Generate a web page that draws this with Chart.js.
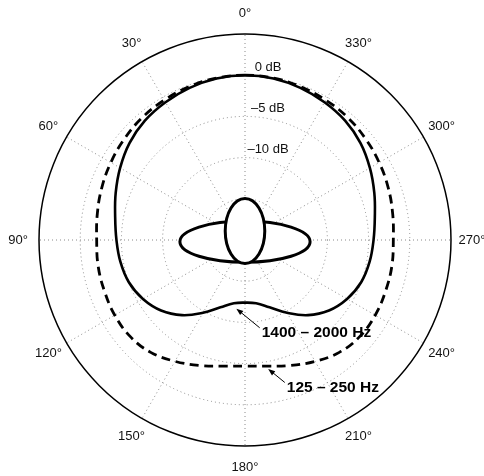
<!DOCTYPE html>
<html>
<head>
<meta charset="utf-8">
<script src="https://cdn.jsdelivr.net/npm/chart.js@4"></script>
<style>
  html, body { margin: 0; padding: 0; background: #fff; }
  #wrap { width: 484px; height: 476px; }
</style>
</head>
<body>
<div id="wrap"><canvas id="polar" width="484" height="476"></canvas></div>
<script>
// angles in degrees, counted counter-clockwise from the front (top)
const angles = [0, 10, 20, 30, 40, 50, 60, 70, 80, 90, 100, 110, 120, 130, 140, 150, 160, 170,
  180, 190, 200, 210, 220, 230, 240, 250, 260, 270, 280, 290, 300, 310, 320, 330, 340, 350];

// relative level in dB
const highBand = [0, -0.1, -0.35, -0.7, -1.1, -1.7, -2.5, -3.3, -4.0, -4.4, -4.65, -5.0, -5.7, -6.7, -8.1, -9.8, -11.3, -12.2,
  -12.4, -12.2, -11.3, -9.8, -8.1, -6.7, -5.7, -5.0, -4.65, -4.4, -4.0, -3.3, -2.5, -1.7, -1.1, -0.7, -0.35, -0.1];
const lowBand = [0, -0.05, -0.2, -0.4, -0.6, -0.9, -1.2, -1.5, -1.8, -2.0, -1.9, -1.85, -1.75, -1.8, -2.2, -3.0, -3.8, -4.45,
  -4.7, -4.45, -3.8, -3.0, -2.2, -1.8, -1.75, -1.85, -1.9, -2.0, -1.8, -1.5, -1.2, -0.9, -0.6, -0.4, -0.2, -0.05];

const seriesNames = ["1400 – 2000 Hz", "125 – 250 Hz"];
const angleTicks = [0, 30, 60, 90, 120, 150, 180, 210, 240, 270, 300, 330];
const dbTicks = [0, -5, -10];
const dbTickLabels = ["0 dB", "–5 dB", "–10 dB"];

// where the two arrows point (angle, dB)
const callouts = [
  { text: seriesNames[0], tip: [172.8, -11.6], tail: [189.5, -9.2] },
  { text: seriesNames[1], tip: [190.2, -4.1], tail: [195.6, -2.05] },
];

// radar goes clockwise, the plot counts counter-clockwise
const order = angles.map((a, i) => (angles.length - i) % angles.length);
const chartLabels = order.map((k) => angles[k]);
const pick = (arr) => order.map((k) => arr[k]);

const FONT = "'Liberation Sans', Arial, Helvetica, sans-serif";
const GRID = "#8a8a8a";

function toPixel(scale, deg, db) {
  const r = scale.getDistanceFromCenterForValue(db);
  const a = (deg * Math.PI) / 180;
  return { x: scale.xCenter - r * Math.sin(a), y: scale.yCenter - r * Math.cos(a) };
}

const overlay = {
  id: "overlay",
  afterDatasetsDraw(chart) {
    const ctx = chart.ctx;
    const scale = chart.scales.r;
    const unit = scale.drawingArea / 25;
    const cx = scale.xCenter;
    const cy = scale.yCenter;

    // listener seen from above: shoulders and head
    ctx.save();
    ctx.lineWidth = 3;
    ctx.strokeStyle = "#000";
    ctx.fillStyle = "#fff";
    ctx.beginPath();
    ctx.ellipse(cx, cy + 0.2 * unit, 7.9 * unit, 2.5 * unit, 0, 0, Math.PI * 2);
    ctx.fill();
    ctx.stroke();
    ctx.beginPath();
    ctx.ellipse(cx, cy - 1.1 * unit, 2.4 * unit, 3.95 * unit, 0, 0, Math.PI * 2);
    ctx.fill();
    ctx.stroke();
    ctx.restore();

    // angle labels
    ctx.save();
    ctx.fillStyle = "#111";
    ctx.font = "13px " + FONT;
    ctx.textAlign = "center";
    ctx.textBaseline = "middle";
    const rl = scale.drawingArea + 21;
    angleTicks.forEach((deg) => {
      const a = (deg * Math.PI) / 180;
      ctx.fillText(deg + "°", cx - rl * Math.sin(a), cy - rl * Math.cos(a));
    });

    // level labels
    dbTicks.forEach((db, i) => {
      const r = scale.getDistanceFromCenterForValue(db);
      ctx.fillText(dbTickLabels[i], cx + 23, cy - r - 8);
    });
    ctx.restore();

    // callouts
    ctx.save();
    ctx.strokeStyle = "#000";
    ctx.fillStyle = "#000";
    ctx.lineWidth = 1;
    ctx.font = "bold 15.5px " + FONT;
    ctx.textAlign = "left";
    ctx.textBaseline = "middle";
    callouts.forEach((c) => {
      const tip = toPixel(scale, c.tip[0], c.tip[1]);
      const tail = toPixel(scale, c.tail[0], c.tail[1]);
      const ang = Math.atan2(tip.y - tail.y, tip.x - tail.x);
      ctx.beginPath();
      ctx.moveTo(tail.x, tail.y);
      ctx.lineTo(tip.x - 5 * Math.cos(ang), tip.y - 5 * Math.sin(ang));
      ctx.stroke();
      ctx.beginPath();
      ctx.moveTo(tip.x, tip.y);
      ctx.lineTo(tip.x - 7 * Math.cos(ang) + 2.6 * Math.sin(ang), tip.y - 7 * Math.sin(ang) - 2.6 * Math.cos(ang));
      ctx.lineTo(tip.x - 7 * Math.cos(ang) - 2.6 * Math.sin(ang), tip.y - 7 * Math.sin(ang) + 2.6 * Math.cos(ang));
      ctx.closePath();
      ctx.fill();
      ctx.fillText(c.text, tail.x + 2, tail.y + 5);
    });
    ctx.restore();
  },
};

new Chart(document.getElementById("polar"), {
  type: "radar",
  data: {
    labels: chartLabels,
    datasets: [
      {
        label: seriesNames[0],
        data: pick(highBand),
        borderColor: "#000",
        borderWidth: 2.6,
        fill: false,
        pointRadius: 0,
        tension: 0.4,
      },
      {
        label: seriesNames[1],
        data: pick(lowBand),
        borderColor: "#000",
        borderWidth: 2.8,
        borderDash: [9, 5.5],
        fill: false,
        pointRadius: 0,
        tension: 0.4,
      },
    ],
  },
  options: {
    responsive: false,
    animation: false,
    layout: { padding: { left: 39, right: 33, top: 34, bottom: 30 } },
    plugins: { legend: { display: false }, tooltip: { enabled: false } },
    scales: {
      r: {
        min: -20,
        max: 5,
        ticks: { stepSize: 5, display: false },
        pointLabels: { display: false },
        grid: {
          circular: true,
          color: (c) => (c.tick && c.tick.value === 5 ? "#000" : GRID),
          lineWidth: (c) => (c.tick && c.tick.value === 5 ? 1.5 : 1),
        },
        border: { dash: (c) => (c.tick && c.tick.value === 5 ? [] : [1, 3]) },
        angleLines: {
          color: GRID,
          lineWidth: (c) => (angleTicks.includes(chartLabels[c.index]) ? 1 : 0),
          borderDash: [1, 3],
        },
      },
    },
  },
  plugins: [overlay],
});
</script>
</body>
</html>
